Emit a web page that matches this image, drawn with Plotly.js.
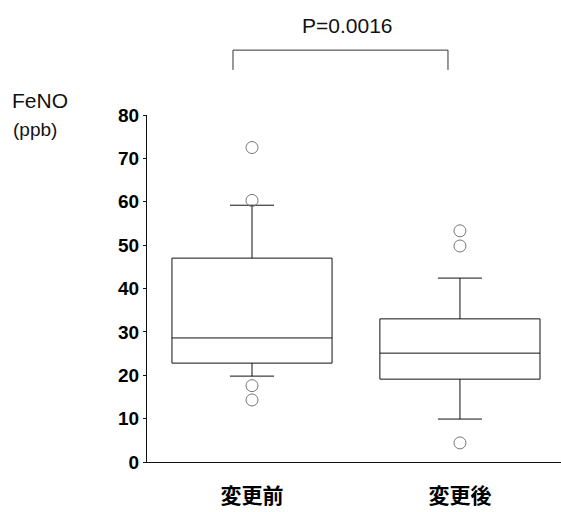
<!DOCTYPE html>
<html>
<head>
<meta charset="utf-8">
<script src="https://cdn.plot.ly/plotly-3.0.1.min.js"></script>
<style>html,body{margin:0;padding:0;background:#fff;}#chart{width:561px;height:512px;}</style>
</head>
<body>
<div id="chart"></div>
<script>
// Data
const categories = ['変更前', '変更後'];
const q1Values = [22.8, 19.1];
const medianValues = [28.6, 25.1];
const q3Values = [47.0, 33.0];
const lowerWhisker = [19.8, 9.9];
const upperWhisker = [59.2, 42.4];
const outlierCategory = ['変更前', '変更前', '変更前', '変更前', '変更後', '変更後', '変更後'];
const outlierValues = [72.5, 60.3, 17.6, 14.3, 53.3, 49.8, 4.4];
const yTickValues = [0, 10, 20, 30, 40, 50, 60, 70, 80];
const pText = 'P=0.0016';
const yTitleLines = ['FeNO', '(ppb)'];

const boxTrace = {
  type: 'box',
  x: categories,
  q1: q1Values,
  median: medianValues,
  q3: q3Values,
  lowerfence: lowerWhisker,
  upperfence: upperWhisker,
  boxpoints: false,
  width: 0.77,
  whiskerwidth: 0.275,
  fillcolor: '#ffffff',
  line: {color: '#111111', width: 1},
  hoverinfo: 'skip',
  showlegend: false
};

const outlierTrace = {
  type: 'scatter',
  mode: 'markers',
  x: outlierCategory,
  y: outlierValues,
  marker: {symbol: 'circle-open', size: 12, color: '#777777', line: {width: 1, color: '#777777'}},
  hoverinfo: 'skip',
  showlegend: false,
  cliponaxis: false
};

const layout = {
  width: 561,
  height: 512,
  margin: {l: 147, r: 0, t: 115, b: 50},
  paper_bgcolor: '#ffffff',
  plot_bgcolor: '#ffffff',
  showlegend: false,
  font: {family: 'Liberation Sans, Arial, sans-serif', color: '#000000'},
  xaxis: {
    type: 'category',
    categoryorder: 'array',
    categoryarray: categories,
    range: [-0.505, 1.486],
    showline: true,
    linecolor: '#111111',
    linewidth: 1,
    ticks: '',
    showgrid: false,
    zeroline: false,
    ticklabelstandoff: 15,
    tickfont: {family: 'Noto Sans CJK JP, sans-serif', size: 21, color: '#000000', weight: 'bold'},
    fixedrange: true
  },
  yaxis: {
    range: [0, 80],
    tickvals: yTickValues,
    ticktext: yTickValues.map(String),
    showline: true,
    linecolor: '#111111',
    linewidth: 1,
    ticks: 'outside',
    ticklen: 3,
    tickcolor: '#111111',
    showgrid: false,
    zeroline: false,
    tickfont: {family: 'Liberation Sans, Arial, sans-serif', size: 19, color: '#000000', weight: 'bold'},
    fixedrange: true
  },
  shapes: [
    {type: 'path', xref: 'paper', yref: 'paper',
     path: 'M 0.2077 1.130 L 0.2077 1.187 L 0.727 1.187 L 0.727 1.130',
     line: {color: '#333333', width: 1}}
  ],
  annotations: [
    {text: pText, xref: 'paper', yref: 'paper', x: 0.4855, y: 1.259, xanchor: 'center', yanchor: 'middle',
     showarrow: false, font: {family: 'Liberation Sans, Arial, sans-serif', size: 21, color: '#111111'}},
    {text: yTitleLines[0], xref: 'paper', yref: 'paper', x: -0.331, y: 1.043, xanchor: 'left', yanchor: 'middle',
     showarrow: false, font: {family: 'Liberation Sans, Arial, sans-serif', size: 21, color: '#111111'}},
    {text: yTitleLines[1], xref: 'paper', yref: 'paper', x: -0.328, y: 0.957, xanchor: 'left', yanchor: 'middle',
     showarrow: false, font: {family: 'Liberation Sans, Arial, sans-serif', size: 19, color: '#111111'}}
  ]
};

Plotly.newPlot('chart', [boxTrace, outlierTrace], layout, {staticPlot: true, displayModeBar: false});
</script>
</body>
</html>
